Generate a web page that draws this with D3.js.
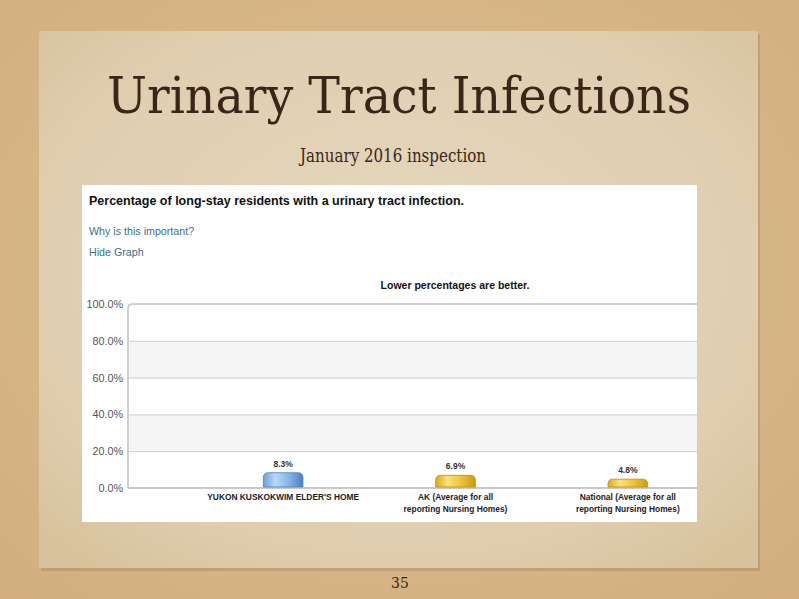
<!DOCTYPE html>
<html><head><meta charset="utf-8">
<script src="https://cdn.jsdelivr.net/npm/d3@7"></script>
<style>body{margin:0;background:#d6b68a;}svg{display:block}</style>
</head><body>
<script>
const categories = ["YUKON KUSKOKWIM ELDER'S HOME", "AK (Average for all|reporting Nursing Homes)", "National (Average for all|reporting Nursing Homes)"];
const values = [8.3, 6.9, 4.8];
const barKinds = ["facility", "state", "national"];
const yTicks = [0, 20, 40, 60, 80, 100];

const W = 799, H = 599;
const svg = d3.select("body").append("svg").attr("width", W).attr("height", H);
const defs = svg.append("defs");

const cork = defs.append("radialGradient").attr("id","cork").attr("cx","50%").attr("cy","45%").attr("r","75%");
cork.append("stop").attr("offset","0%").attr("stop-color","#dcbf94");
cork.append("stop").attr("offset","100%").attr("stop-color","#d2ae7e");
const paper = defs.append("radialGradient").attr("id","paper").attr("cx","50%").attr("cy","45%").attr("r","70%");
paper.append("stop").attr("offset","0%").attr("stop-color","#e5d8c0");
paper.append("stop").attr("offset","75%").attr("stop-color","#dfcdae");
paper.append("stop").attr("offset","100%").attr("stop-color","#d8c29c");

const blue = defs.append("linearGradient").attr("id","blueBar").attr("x1","0").attr("x2","1").attr("y1","0").attr("y2","0");
[["0%","#6f9fd4"],["30%","#b9d8f5"],["60%","#8dbbe8"],["100%","#4f80bd"]].forEach(s=>blue.append("stop").attr("offset",s[0]).attr("stop-color",s[1]));
const gold = defs.append("linearGradient").attr("id","goldBar").attr("x1","0").attr("x2","1").attr("y1","0").attr("y2","0");
[["0%","#d9a91c"],["30%","#fbe27a"],["60%","#f0c93a"],["100%","#c99a16"]].forEach(s=>gold.append("stop").attr("offset",s[0]).attr("stop-color",s[1]));

svg.append("rect").attr("width",W).attr("height",H).attr("fill","url(#cork)");
svg.append("rect").attr("x",39).attr("y",31).attr("width",719).attr("height",537).attr("fill","#000").attr("opacity",0.1).attr("transform","translate(2,3)");
svg.append("rect").attr("x",39).attr("y",31).attr("width",719).attr("height",537).attr("fill","url(#paper)");

svg.append("text").attr("x",399).attr("y",113).attr("text-anchor","middle")
  .attr("font-family","'DejaVu Serif', serif").attr("font-size",50).attr("fill","#3b2519")
  .attr("textLength",584).attr("lengthAdjust","spacingAndGlyphs")
  .text("Urinary Tract Infections");
svg.append("text").attr("x",393).attr("y",162).attr("text-anchor","middle")
  .attr("font-family","'DejaVu Serif', serif").attr("font-size",18).attr("fill","#3b2519")
  .attr("textLength",186).attr("lengthAdjust","spacingAndGlyphs")
  .text("January 2016 inspection");
svg.append("text").attr("x",400).attr("y",588).attr("text-anchor","middle")
  .attr("font-family","'DejaVu Serif', serif").attr("font-size",14).attr("fill","#3b2519")
  .text("35");

svg.append("rect").attr("x",82).attr("y",185).attr("width",615).attr("height",337).attr("fill","#ffffff");
svg.append("text").attr("x",89).attr("y",205).attr("font-family","'Liberation Sans', Arial, sans-serif")
  .attr("font-weight","bold").attr("font-size",12.5).attr("fill","#111")
  .text("Percentage of long-stay residents with a urinary tract infection.");
svg.append("text").attr("x",89).attr("y",235).attr("font-family","'Liberation Sans', Arial, sans-serif")
  .attr("font-size",10.7).attr("fill","#3a6f8f").text("Why is this important?");
svg.append("text").attr("x",89).attr("y",256).attr("font-family","'Liberation Sans', Arial, sans-serif")
  .attr("font-size",10.7).attr("fill","#3a6f8f").text("Hide Graph");
svg.append("text").attr("x",455).attr("y",289).attr("text-anchor","middle").attr("font-family","'Liberation Sans', Arial, sans-serif")
  .attr("font-weight","bold").attr("font-size",10.5).attr("fill","#111").text("Lower percentages are better.");

defs.append("clipPath").attr("id","panelClip").append("rect").attr("x",82).attr("y",185).attr("width",615).attr("height",337);
const g = svg.append("g").attr("clip-path","url(#panelClip)");
const plotL = 128, plotR = 714, plotT = 304, plotB = 488;
const y = d3.scaleLinear().domain([0,100]).range([plotB, plotT]);
const x = d3.scaleBand().domain(categories).range([197, 714]).paddingInner(0.77).paddingOuter(0.385);

const bandPairs = d3.pairs(yTicks);
g.selectAll("rect.band").data(bandPairs).join("rect").attr("class","band")
  .attr("x",plotL).attr("width",plotR-plotL)
  .attr("y",d=>y(d[1])).attr("height",d=>y(d[0])-y(d[1]))
  .attr("fill",(d,i)=> i%2===1 ? "#f5f5f5" : "#ffffff");

const grid = g.append("g").attr("transform",`translate(${plotL},0)`)
  .call(d3.axisLeft(y).tickValues(yTicks).tickSize(-(plotR-plotL)).tickFormat(""));
grid.select(".domain").remove();
grid.selectAll("line").attr("stroke","#d6d6d6").attr("stroke-width",1.2);

g.append("path").attr("d",`M${plotL},${plotB} V${plotT+5} Q${plotL},${plotT} ${plotL+5},${plotT} H${plotR}`)
  .attr("fill","none").attr("stroke","#cfcfcf").attr("stroke-width",2);
g.append("line").attr("x1",plotL).attr("x2",plotR).attr("y1",plotB).attr("y2",plotB).attr("stroke","#c8c8c8").attr("stroke-width",2);

const yAxis = svg.append("g").attr("transform",`translate(${plotL-2},0)`)
  .call(d3.axisLeft(y).tickValues(yTicks).tickSize(0).tickFormat(d=>d3.format(".1f")(d)+"%"));
yAxis.select(".domain").remove();
yAxis.selectAll("text").attr("font-family","'Liberation Sans', Arial, sans-serif").attr("font-size",10.8).attr("fill","#555").attr("dx","0");

const r = 5;
function barPath(x0, w, yTop, yBot){
  return `M${x0},${yBot} V${yTop+r} Q${x0},${yTop} ${x0+r},${yTop} H${x0+w-r} Q${x0+w},${yTop} ${x0+w},${yTop+r} V${yBot} Z`;
}
g.selectAll("path.bar").data(values).join("path").attr("class","bar")
  .attr("d",(d,i)=>barPath(x(categories[i]), x.bandwidth(), y(d), plotB-1))
  .attr("fill",(d,i)=> barKinds[i]==="facility" ? "url(#blueBar)" : "url(#goldBar)")
  .attr("stroke",(d,i)=> barKinds[i]==="facility" ? "#4f7fb8" : "#b98d12").attr("stroke-width",0.8);

g.selectAll("text.val").data(values).join("text").attr("class","val")
  .attr("x",(d,i)=>x(categories[i])+x.bandwidth()/2).attr("y",d=>y(d)-6)
  .attr("text-anchor","middle").attr("font-family","'Liberation Sans', Arial, sans-serif")
  .attr("font-weight","bold").attr("font-size",8.5).attr("fill","#333")
  .text(d=>d3.format(".1f")(d)+"%");

const xl = svg.append("g").selectAll("text").data(categories).join("text")
  .attr("x",d=>x(d)+x.bandwidth()/2).attr("y",plotB+12)
  .attr("text-anchor","middle").attr("font-family","'Liberation Sans', Arial, sans-serif")
  .attr("font-weight","bold").attr("font-size",8.4).attr("fill","#222");
xl.each(function(d){
  const t = d3.select(this);
  d.split("|").forEach((line,i)=>{
    t.append("tspan").attr("x",x(d)+x.bandwidth()/2).attr("dy",i===0?0:12).text(line);
  });
});
</script>
</body></html>
